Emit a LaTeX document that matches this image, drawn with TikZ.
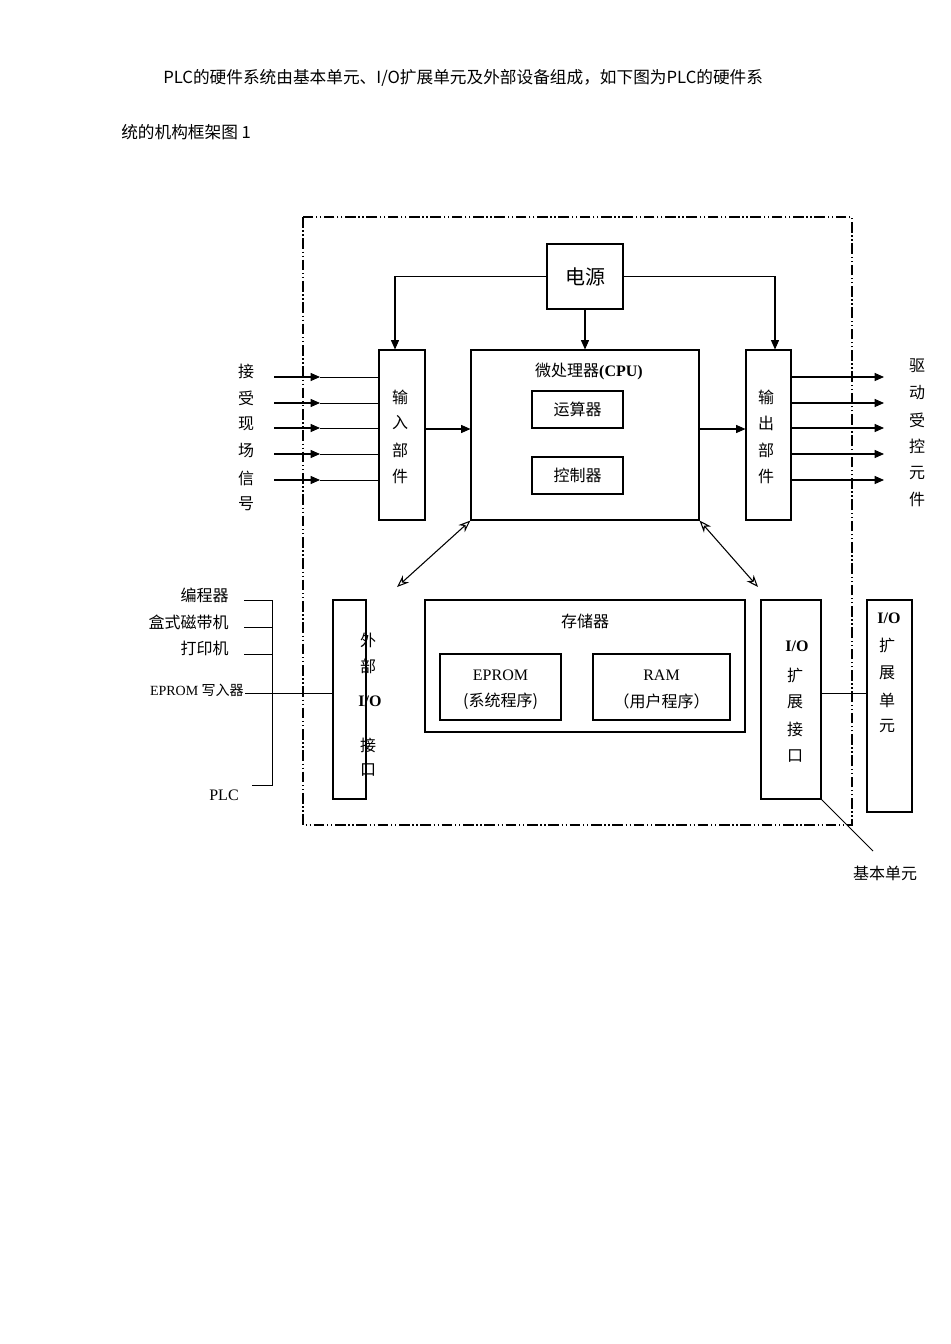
\documentclass[tikz,border=0pt]{standalone}
\usepackage{fontspec}
\setmainfont{Liberation Serif}
\newfontfamily\cjk{Noto Sans CJK SC}
\usetikzlibrary{arrows.meta}
\begin{document}
\begin{tikzpicture}[x=0.75pt,y=-0.75pt,
 bx/.style={draw,thick,inner sep=0},
 lab/.style={font=\cjk\fontsize{12}{14}\selectfont,inner sep=0},
 tm/.style={font=\fontsize{12}{14}\selectfont,inner sep=0},
 ar/.style={-{Triangle[length=7pt,width=6pt]},thick},
 da/.style={{Stealth[length=9pt,width=7pt,open]}-{Stealth[length=9pt,width=7pt,open]},thick},
 frame/.style={thick,dash pattern=on 8pt off 2pt on 1pt off 2pt on 1pt off 2pt}]
\useasboundingbox (0,0) rectangle (950,1344);
\node[anchor=west,font=\cjk\fontsize{12.5}{14}\selectfont,inner sep=0] (h1) at (163,78) {PLC的硬件系统由基本单元、I/O扩展单元及外部设备组成，如下图为PLC的硬件系};
\node[anchor=west,font=\cjk\fontsize{12.5}{14}\selectfont,inner sep=0] (h2) at (121,132) {统的机构框架图 1};
\draw[frame] (303,217) rectangle (852,825);
\node[bx,minimum width=57pt,minimum height=48.75pt,font=\cjk\fontsize{15}{16}\selectfont] (pw) at (585,276.5) {电源};
\node[bx,minimum width=34.5pt,minimum height=127.5pt] (in) at (402,435) {};
\node[bx,minimum width=171pt,minimum height=127.5pt] (cpu) at (585,435) {};
\node[bx,minimum width=33.75pt,minimum height=127.5pt] (out) at (768.5,435) {};
\node[lab] (ct) at (589,371) {微处理器\textbf{\fontspec{Liberation Serif}(CPU)}};
\node[bx,minimum width=68.25pt,minimum height=27.75pt,lab] (alu) at (577.5,409.5) {运算器};
\node[bx,minimum width=68.25pt,minimum height=27.75pt,lab] (ctl) at (577.5,475.5) {控制器};
\foreach \t/\y in {输/397,入/423,部/450,件/476} \node[lab] at (400,\y) {\t};
\foreach \t/\y in {输/397,出/423,部/450,件/476} \node[lab] at (766,\y) {\t};
\coordinate (pl) at (395,285); \coordinate (pr) at (775,285);
\draw[ar] (pw.west) -| (in.north -| pl);
\draw[ar] (pw.east) -| (out.north -| pr);
\draw[ar] (pw.south) -- (cpu.north -| pw.south);
\draw[ar] (in.east |- 0,429) -- (cpu.west |- 0,429);
\draw[ar] (cpu.east |- 0,429) -- (out.west |- 0,429);
\foreach \y [count=\i] in {377,403,428,454,480} {
  \coordinate (ia\i) at (274,\y); \coordinate (im\i) at (320,\y);
  \draw[ar] (ia\i) -- (im\i); \draw[semithick] (im\i) -- (in.west |- ia\i);
  \coordinate (oe\i) at (884,\y);
  \draw[ar] (out.east |- oe\i) -- (oe\i);}
\foreach \t/\y in {接/371,受/398,现/424,场/451,信/478,号/504} \node[lab] at (246,\y) {\t};
\foreach \t/\y in {驱/366,动/393,受/420,控/446,元/473,件/499} \node[lab] at (917,\y) {\t};
\node[bx,minimum width=24.75pt,minimum height=149.25pt] (ext) at (349.5,699.5) {};
\foreach \t/\y in {外/640,部/666,接/745,口/770} \node[lab] at (368,\y) {\t};
\node[tm,font=\bfseries\fontsize{12}{14}\selectfont] at (370,701) {I/O};
\node[bx,minimum width=240pt,minimum height=99pt] (mem) at (585,666) {};
\node[lab] at (585,621) {存储器};
\node[bx,minimum width=90.75pt,minimum height=49.5pt] (ep) at (500.5,687) {};
\node[tm] at (500.5,675) {EPROM}; \node[lab] at (500.5,701) {(系统程序)};
\node[bx,minimum width=102.75pt,minimum height=49.5pt] (ram) at (661.5,687) {};
\node[tm] at (661.5,675) {RAM}; \node[lab] at (661.5,701) {（用户程序）};
\node[bx,minimum width=45pt,minimum height=149.25pt] (iox) at (791,699.5) {};
\node[tm,font=\bfseries\fontsize{12}{14}\selectfont] at (797,646) {I/O};
\foreach \t/\y in {扩/675,展/702,接/729,口/756} \node[lab] at (795,\y) {\t};
\node[bx,minimum width=33.75pt,minimum height=159pt] (iou) at (889.5,706) {};
\node[tm,font=\bfseries\fontsize{12}{14}\selectfont] at (889,618) {I/O};
\foreach \t/\y in {扩/645,展/673,单/700,元/726} \node[lab] at (887,\y) {\t};
\draw[semithick] (iox.east |- 0,693) -- (iou.west |- 0,693);
\draw[da] (cpu.south west) -- (397,587);
\draw[da] (cpu.south east) -- (758,587);
\draw[semithick] (244,600) -| (272,785) -- (252,785);
\draw[semithick] (244,627) -- (272,627); \draw[semithick] (244,654) -- (272,654);
\coordinate (ew) at (245,693);
\draw[semithick] (ew) -- (ext.west |- ew);
\node[lab,anchor=east] at (229,595) {编程器};
\node[lab,anchor=east] at (229,622) {盒式磁带机};
\node[lab,anchor=east] at (229,648) {打印机};
\node[anchor=east,inner sep=0,font=\fontsize{10.5}{12}\selectfont] at (244,690) {EPROM {\cjk 写入器}};
\node[tm] at (224,795) {PLC};
\coordinate (bu) at (873,851);
\draw[semithick] (iox.south east) -- (bu);
\node[lab] at (885,873) {基本单元};
\end{tikzpicture}
\end{document}
